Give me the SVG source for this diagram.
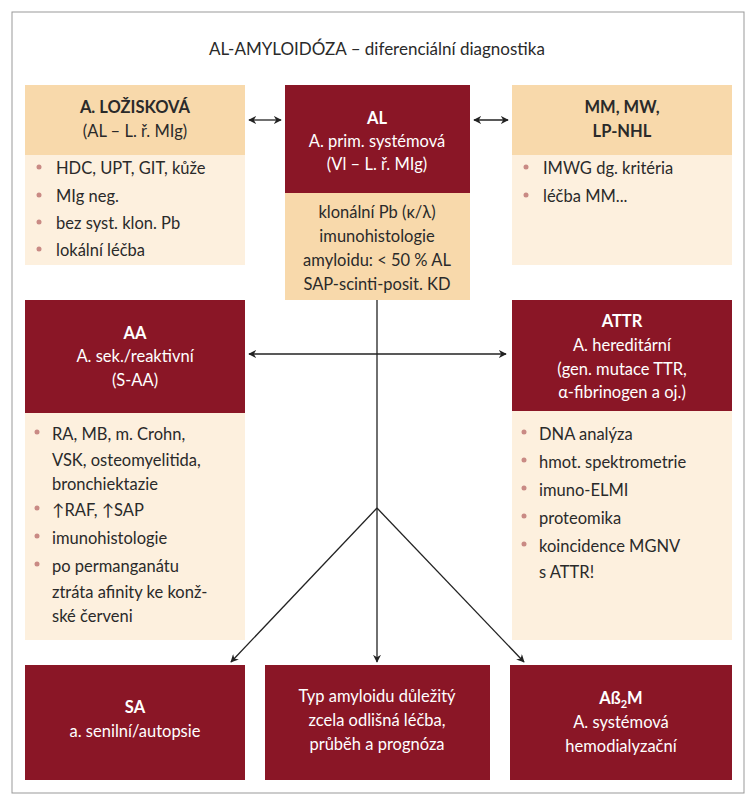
<svg xmlns="http://www.w3.org/2000/svg" width="755" height="800" viewBox="0 0 755 800">
<defs>
<marker id="ah" viewBox="0 0 10 10" refX="9" refY="5" markerWidth="8" markerHeight="8" orient="auto-start-reverse" markerUnits="userSpaceOnUse"><path d="M0,0 L10,5 L0,10 L3,5 z" fill="#222"/></marker>
</defs>
<style>
text{font-family:Lato,"Open Sans","Liberation Sans",sans-serif;font-size:16.5px;fill:#2a2a2a}
.w{fill:#fff;text-anchor:middle}
.c{text-anchor:middle}
.b{font-weight:bold}
.red{fill:#8a1626}
.hd{fill:#f8d9ab}
.bd{fill:#fdf0de}
.dot{fill:#c98a84}
.ln{stroke:#222;stroke-width:1.3;fill:none}
</style>
<rect x="12" y="12" width="732" height="781" fill="#fff" stroke="#999" stroke-width="1"/>
<text x="377" y="55" class="c" style="font-size:17px">AL-AMYLOIDÓZA – diferenciální diagnostika</text>

<g id="lozis">
<rect x="25" y="85" width="220" height="70" class="hd"/>
<rect x="25" y="155" width="220" height="110" class="bd"/>
<text x="135" y="113" class="c b">A. LOŽISKOVÁ</text>
<text x="135" y="137" class="c">(AL – L. ř. MIg)</text>
<circle cx="39" cy="167" r="2.5" class="dot"/><text x="56" y="174">HDC, UPT, GIT, kůže</text>
<circle cx="39" cy="195" r="2.5" class="dot"/><text x="56" y="202">MIg neg.</text>
<circle cx="39" cy="222" r="2.5" class="dot"/><text x="56" y="229">bez syst. klon. Pb</text>
<circle cx="39" cy="249" r="2.5" class="dot"/><text x="56" y="256">lokální léčba</text>
</g>

<g id="al">
<rect x="285" y="85" width="185" height="108" class="red"/>
<rect x="285" y="193" width="185" height="107" class="hd"/>
<text x="377" y="124" class="w b">AL</text>
<text x="377" y="147" class="w">A. prim. systémová</text>
<text x="377" y="170" class="w">(Vl – L. ř. MIg)</text>
<text x="377" y="218" class="c">klonální Pb (κ/λ)</text>
<text x="377" y="242" class="c">imunohistologie</text>
<text x="377" y="266" class="c">amyloidu: &lt; 50 % AL</text>
<text x="377" y="290" class="c">SAP-scinti-posit. KD</text>
</g>

<g id="mm">
<rect x="512" y="85" width="220" height="70" class="hd"/>
<rect x="512" y="155" width="220" height="110" class="bd"/>
<text x="622" y="113" class="c b">MM, MW,</text>
<text x="622" y="137" class="c b">LP-NHL</text>
<circle cx="526" cy="167" r="2.5" class="dot"/><text x="543" y="174">IMWG dg. kritéria</text>
<circle cx="526" cy="195" r="2.5" class="dot"/><text x="543" y="202">léčba MM...</text>
</g>

<g id="aa">
<rect x="25" y="300" width="220" height="113" class="red"/>
<rect x="25" y="413" width="220" height="227" class="bd"/>
<text x="135" y="339" class="w b">AA</text>
<text x="135" y="362" class="w">A. sek./reaktivní</text>
<text x="135" y="386" class="w">(S-AA)</text>
<circle cx="37" cy="432" r="2.5" class="dot"/><text x="52" y="440">RA, MB, m. Crohn,</text>
<text x="52" y="466">VSK, osteomyelitida,</text>
<text x="52" y="490">bronchiektazie</text>
<circle cx="37" cy="508" r="2.5" class="dot"/><text x="52" y="516">↑RAF, ↑SAP</text>
<circle cx="37" cy="536" r="2.5" class="dot"/><text x="52" y="544">imunohistologie</text>
<circle cx="37" cy="564" r="2.5" class="dot"/><text x="52" y="572">po permanganátu</text>
<text x="52" y="598">ztráta afinity ke konž-</text>
<text x="52" y="622">ské červeni</text>
</g>

<g id="attr">
<rect x="512" y="300" width="220" height="111" class="red"/>
<rect x="512" y="411" width="220" height="229" class="bd"/>
<text x="622" y="327" class="w b">ATTR</text>
<text x="622" y="351" class="w">A. hereditární</text>
<text x="622" y="375" class="w">(gen. mutace TTR,</text>
<text x="622" y="398" class="w">α-fibrinogen a oj.)</text>
<circle cx="524" cy="432" r="2.5" class="dot"/><text x="539" y="440">DNA analýza</text>
<circle cx="524" cy="460" r="2.5" class="dot"/><text x="539" y="468">hmot. spektrometrie</text>
<circle cx="524" cy="488" r="2.5" class="dot"/><text x="539" y="496">imuno-ELMI</text>
<circle cx="524" cy="516" r="2.5" class="dot"/><text x="539" y="524">proteomika</text>
<circle cx="524" cy="544" r="2.5" class="dot"/><text x="539" y="552">koincidence MGNV</text>
<text x="539" y="578">s ATTR!</text>
</g>

<g id="sa">
<rect x="25" y="665" width="220" height="115" class="red"/>
<text x="135" y="713" class="w b">SA</text>
<text x="135" y="737" class="w">a. senilní/autopsie</text>
</g>
<g id="typ">
<rect x="265" y="665" width="225" height="115" class="red"/>
<text x="377" y="702" class="w">Typ amyloidu důležitý</text>
<text x="377" y="726" class="w">zcela odlišná léčba,</text>
<text x="377" y="750" class="w">průběh a prognóza</text>
</g>
<g id="ab2m">
<rect x="510" y="665" width="222" height="115" class="red"/>
<text x="621" y="704" class="w b">Aß<tspan style="font-size:11px" dy="4">2</tspan><tspan dy="-4">M</tspan></text>
<text x="621" y="728" class="w">A. systémová</text>
<text x="621" y="752" class="w">hemodialyzační</text>
</g>

<g id="connectors">
<line x1="249" y1="120" x2="281" y2="120" class="ln" marker-start="url(#ah)" marker-end="url(#ah)"/>
<line x1="474" y1="120" x2="508" y2="120" class="ln" marker-start="url(#ah)" marker-end="url(#ah)"/>
<line x1="249" y1="354" x2="506" y2="354" class="ln" marker-start="url(#ah)" marker-end="url(#ah)"/>
<line x1="377" y1="300" x2="377" y2="662" class="ln" marker-end="url(#ah)"/>
<line x1="377" y1="508" x2="231" y2="662" class="ln" marker-end="url(#ah)"/>
<line x1="377" y1="508" x2="524" y2="662" class="ln" marker-end="url(#ah)"/>
</g>
</svg>
